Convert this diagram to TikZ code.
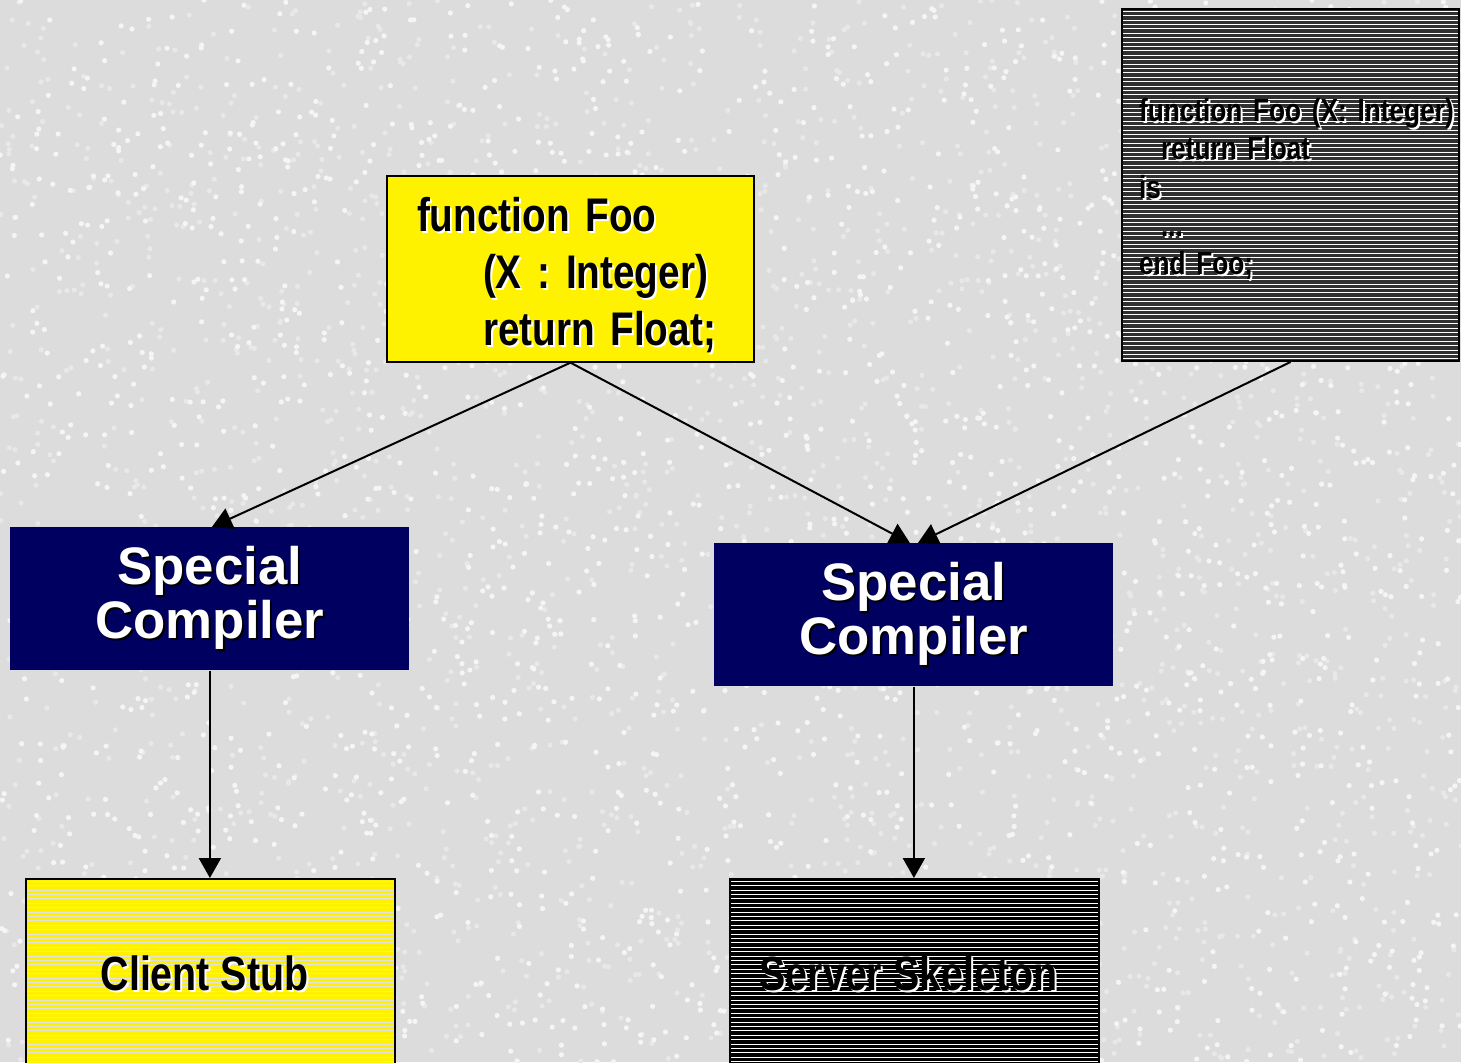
\documentclass[tikz,border=0pt]{standalone}
\usepackage{fontspec}
\setmainfont{Liberation Sans}
\newfontfamily\narrowsf{Liberation Sans}[FakeStretch=0.82]
\usepackage{tikz}
\usetikzlibrary{arrows.meta,positioning}

\definecolor{granite}{RGB}{220,220,220}
\definecolor{navy}{RGB}{0,0,96}
\definecolor{darkgrey}{RGB}{48,48,48}
\definecolor{stubline}{RGB}{225,225,225}

% text with a drop shadow: {text colour}{shadow colour}{text}
\newcommand{\shd}[3]{\leavevmode\rlap{\kern1pt\raisebox{-1pt}{\color{#2}#3}}\mbox{\color{#1}#3}}
\newcommand{\blk}[1]{\shd{black}{white}{#1}}
\newcommand{\wht}[1]{\shd{white}{black}{#1}}

\begin{document}
\begin{tikzpicture}[x=0.5pt,y=-0.5pt,
  stripes/.style={path picture={
      \foreach \k in {1.1,3.3,...,180}
        \draw[#1,line width=0.4pt]
          ([yshift=-\k pt]path picture bounding box.north west) --
          ([yshift=-\k pt]path picture bounding box.north east);}},
  spec/.style={draw=black,line width=1pt,fill=yellow,anchor=north west,
    minimum width=183.5pt,minimum height=92.5pt,inner xsep=15pt,
    text width=153.5pt,align=left,font=\narrowsf\bfseries\fontsize{23.6}{28.5}\selectfont},
  body/.style={draw=black,line width=1pt,fill=darkgrey,stripes=white,anchor=north west,
    minimum width=168.5pt,minimum height=176pt,inner xsep=8.5pt,
    text width=151.5pt,align=left,font=\narrowsf\bfseries\fontsize{16}{19.1}\selectfont},
  compiler/.style={fill=navy,anchor=north west,minimum width=199.5pt,minimum height=71.5pt,
    align=center,font=\bfseries\fontsize{26.4}{25}\selectfont},
  stub/.style={draw=black,line width=1pt,anchor=north west,minimum width=184.5pt,
    minimum height=95pt,font=\narrowsf\bfseries\fontsize{24}{28}\selectfont},
  arrow/.style={-{Triangle[length=10pt,width=11pt]},line width=1pt}
]
  \fill[granite] (0,0) rectangle (1461,1062);
  \useasboundingbox (0,0) rectangle (1461,1062);
  % speckled background
  \pgfmathsetseed{17}
  \foreach \i in {1,...,2200}{
    \pgfmathsetmacro\px{rnd*1461}\pgfmathsetmacro\py{rnd*1062}
    \fill[black!9] (\px,\py) circle (1.3pt);
  }
  \foreach \i in {1,...,2200}{
    \pgfmathsetmacro\px{rnd*1461}\pgfmathsetmacro\py{rnd*1062}
    \fill[white!70!granite] (\px,\py) circle (1.3pt);
  }

  \node[spec] (foo) at (386,175)
    {\rule{0pt}{24.5pt}\blk{function Foo}\\
     \hspace*{33pt}\blk{(X : Integer)}\\
     \hspace*{33pt}\blk{return Float;}};
  \node[body] (fooBody) at (1121,8)
    {\rule{0pt}{16.5pt}\blk{function Foo (X: Integer)}\\
     \hspace*{11pt}\blk{return Float}\\
     \blk{is}\\
     \hspace*{11pt}\blk{...}\\
     \blk{end Foo;}};

  \node[compiler] (compClient) at (10,527) {\wht{Special}\\\wht{Compiler}};
  \node[compiler] (compServer) at (714,543) {\wht{Special}\\\wht{Compiler}};

  \node[stub,fill=yellow,stripes=stubline] (client) at (25,878) {\blk{Client Stub}\kern6pt};
  \node[stub,fill=black,stripes=white] (server) at (729,878) {\blk{Server Skeleton}\kern6pt};

  \draw[arrow] (foo.south) -- ([xshift=1pt]compClient.north);
  \draw[arrow] (foo.south) -- ([xshift=-2pt]compServer.north);
  \draw[arrow] (fooBody.south) -- ([xshift=2pt]compServer.north);
  \draw[arrow] (compClient.south) -- (compClient.south |- client.north);
  \draw[arrow] (compServer.south) -- (compServer.south |- server.north);
\end{tikzpicture}
\end{document}
